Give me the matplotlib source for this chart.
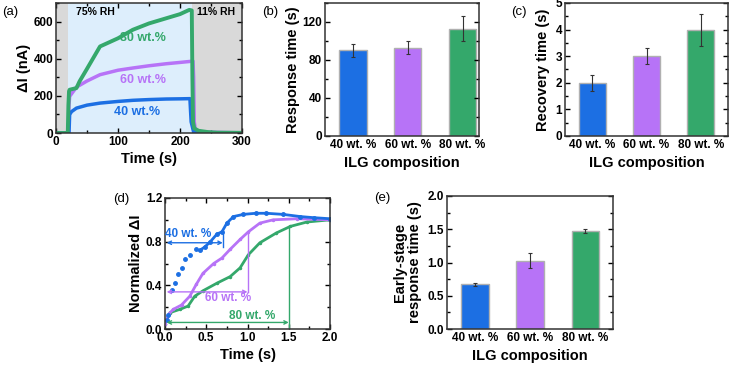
import matplotlib.pyplot as plt
from matplotlib.ticker import AutoMinorLocator

plt.rcParams['font.family'] = ['Liberation Sans', 'DejaVu Sans']
plt.rcParams['font.weight'] = 'bold'
plt.rcParams['axes.labelweight'] = 'bold'

BLUE = '#1c6fe3'
PURPLE = '#b773f7'
GREEN = '#34a86b'

# (a) current change vs time
t_green = [0, 19, 20, 21, 22, 33, 38, 49, 71, 100, 124, 150, 178, 200, 215, 219, 220, 221, 223, 230, 245, 260, 300]
i_green = [0, 0, 150, 225, 233, 242, 278, 340, 466, 510, 556, 590, 618, 640, 663, 660, 300, 60, 25, 12, 5, 2, 1]
t_purple = [0, 20, 21, 22, 33, 50, 71, 100, 124, 150, 178, 200, 221, 222, 223, 225, 235, 300]
i_purple = [0, 0, 150, 197, 247, 280, 314, 338, 350, 362, 373, 380, 387, 300, 60, 15, 5, 1]
t_blue = [0, 21, 22, 25, 33, 50, 71, 100, 124, 150, 178, 200, 216, 217, 218, 222, 235, 300]
i_blue = [0, 0, 99, 115, 134, 150, 161, 170, 176, 180, 183, 184, 185, 120, 60, 5, 1, 0]

# bar panels
comps = ['40 wt. %', '60 wt. %', '80 wt. %']
resp = [90, 93, 113]
resp_err = [6.5, 7, 13]
recov = [2, 3, 4]
recov_err = [0.3, 0.3, 0.6]
early = [0.67, 1.03, 1.48]
early_err = [0.025, 0.12, 0.03]

# (d) normalized response
d_t_blue = [0.02, 0.04, 0.08, 0.12, 0.16, 0.2, 0.24, 0.3, 0.38, 0.42, 0.48, 0.55, 0.63, 0.69, 0.75,
            0.83, 0.95, 1.1, 1.23, 1.43, 1.64, 1.8, 2.0]
d_n_blue = [0.08, 0.13, 0.36, 0.42, 0.5, 0.56, 0.64, 0.68, 0.73, 0.72, 0.75, 0.8, 0.87, 0.89, 0.97,
            1.03, 1.05, 1.06, 1.06, 1.05, 1.03, 1.02, 1.01]
d_t_purple = [0.0, 0.05, 0.1, 0.2, 0.3, 0.38, 0.46, 0.59, 0.69, 0.79, 0.91, 1.01, 1.15, 1.31, 1.6, 2.0]
d_n_purple = [0.05, 0.14, 0.18, 0.22, 0.3, 0.41, 0.51, 0.6, 0.65, 0.73, 0.82, 0.89, 0.97, 1.0, 1.01, 1.0]
d_t_green = [0.0, 0.06, 0.18, 0.28, 0.36, 0.46, 0.63, 0.79, 0.91, 1.01, 1.15, 1.35, 1.52, 1.72, 2.0]
d_n_green = [0.05, 0.15, 0.18, 0.21, 0.3, 0.35, 0.42, 0.48, 0.56, 0.68, 0.79, 0.88, 0.94, 0.98, 1.0]

TICK_FS = 8.5
LAB_FS = 10.5


def style_axes(ax):
    ax.tick_params(which='both', direction='in', top=True, right=True, labelsize=TICK_FS, width=1, pad=2)
    ax.tick_params(which='major', length=3.5)
    ax.tick_params(which='minor', length=2)
    ax.xaxis.set_minor_locator(AutoMinorLocator(2))
    ax.yaxis.set_minor_locator(AutoMinorLocator(2))
    for s in ax.spines.values():
        s.set_linewidth(1.1)
        s.set_color('#333333')
    for lab in ax.get_xticklabels() + ax.get_yticklabels():
        lab.set_fontweight('bold')


def bar_panel(ax, vals, errs):
    x = [1, 2, 3]
    ax.bar(x, vals, width=0.5, color=[BLUE, PURPLE, GREEN], edgecolor='#b0b0b0', linewidth=1,
           yerr=errs, capsize=1.5, error_kw=dict(elinewidth=0.8, capthick=0.8, ecolor='#333333'))
    ax.set_xticks(x)
    ax.set_xticklabels(comps)
    style_axes(ax)
    ax.tick_params(axis='x', which='both', top=False, bottom=False, pad=2)
    ax.set_xlabel('ILG composition', fontsize=LAB_FS, labelpad=4)


fig = plt.figure(figsize=(7.29, 3.66), dpi=100)
W, H = 729, 366


def add_ax(x0, x1, y0, y1):
    return fig.add_axes([x0 / W, 1 - y1 / H, (x1 - x0) / W, (y1 - y0) / H])


# (a)
ax = add_ax(56, 242, 3, 133)
ax.axvspan(0, 20, color='#d9d9d9', lw=0)
ax.axvspan(20, 220, color='#ddeefc', lw=0)
ax.axvspan(220, 300, color='#d9d9d9', lw=0)
ax.plot(t_purple, i_purple, color=PURPLE, lw=2.5)
ax.plot(t_blue, i_blue, color=BLUE, lw=2.5)
ax.plot(t_green, i_green, color=GREEN, lw=2.8)
ax.set_xlim(0, 300)
ax.set_ylim(0, 700)
ax.set_xticks([0, 100, 200, 300])
ax.set_yticks([0, 200, 400, 600])
ax.text(140, 511, '80 wt.%', color=GREEN, fontsize=9, fontweight='bold', ha='center', va='center')
ax.text(140, 287, '60 wt.%', color=PURPLE, fontsize=9, fontweight='bold', ha='center', va='center')
ax.text(131, 111, '40 wt.%', color=BLUE, fontsize=9, fontweight='bold', ha='center', va='center')
ax.text(63, 649, '75% RH', fontsize=7.5, fontweight='bold', ha='center', va='center')
ax.text(258, 649, '11% RH', fontsize=7.5, fontweight='bold', ha='center', va='center')
style_axes(ax)
ax.set_xlabel('Time (s)', fontsize=LAB_FS, labelpad=3)
ax.set_ylabel('ΔI (nA)', fontsize=LAB_FS, labelpad=2)
fig.text(2 / W, 1 - 12 / H, '(a)', fontsize=9.5, fontweight='normal', va='center')

# (b)
ax = add_ax(325, 479, 3, 136)
bar_panel(ax, resp, resp_err)
ax.set_xlim(0.49, 3.3)
ax.set_ylim(0, 140)
ax.set_yticks([0, 40, 80, 120])
ax.set_ylabel('Response time (s)', fontsize=LAB_FS, labelpad=2)
fig.text(262 / W, 1 - 12 / H, '(b)', fontsize=9.5, fontweight='normal', va='center')

# (c)
ax = add_ax(565, 728, 3, 136)
bar_panel(ax, recov, recov_err)
ax.set_xlim(0.5, 3.5)
ax.set_ylim(0, 5)
ax.set_yticks([0, 1, 2, 3, 4, 5])
ax.set_ylabel('Recovery time (s)', fontsize=LAB_FS, labelpad=4)
fig.text(511 / W, 1 - 12 / H, '(c)', fontsize=9.5, fontweight='normal', va='center')

# (d)
ax = add_ax(165, 330, 198, 329)
ax.plot(d_t_green, d_n_green, color=GREEN, lw=2, marker='o', ms=1.5)
ax.plot(d_t_purple, d_n_purple, color=PURPLE, lw=2, marker='o', ms=1.5)
ax.plot(d_t_blue, d_n_blue, color=BLUE, lw=0, marker='o', ms=2.5)
ax.plot(d_t_blue[9:], d_n_blue[9:], color=BLUE, lw=2)
arr = dict(arrowstyle='<->', lw=1, shrinkA=0, shrinkB=0, mutation_scale=6)
ax.annotate('', xy=(0.02, 0.79), xytext=(0.7, 0.79), arrowprops=dict(color=BLUE, **arr))
ax.plot([0.7, 0.7], [0.75, 0.89], color=BLUE, lw=1)
ax.text(0.28, 0.87, '40 wt. %', color=BLUE, fontsize=8.5, fontweight='bold', ha='center', va='center')
ax.annotate('', xy=(0.02, 0.34), xytext=(1.0, 0.34), arrowprops=dict(color=PURPLE, **arr))
ax.plot([1.0, 1.0], [0.34, 0.89], color=PURPLE, lw=1)
ax.text(0.77, 0.28, '60 wt. %', color=PURPLE, fontsize=8.5, fontweight='bold', ha='center', va='center')
ax.annotate('', xy=(0.02, 0.06), xytext=(1.5, 0.06), arrowprops=dict(color=GREEN, **arr))
ax.plot([1.5, 1.5], [0.0, 0.94], color=GREEN, lw=1)
ax.text(1.06, 0.12, '80 wt. %', color=GREEN, fontsize=8.5, fontweight='bold', ha='center', va='center')
ax.set_xlim(0, 2)
ax.set_ylim(0, 1.2)
ax.set_xticks([0, 0.5, 1.0, 1.5, 2.0])
ax.set_yticks([0, 0.4, 0.8, 1.2])
style_axes(ax)
ax.set_xlabel('Time (s)', fontsize=LAB_FS, labelpad=3)
ax.set_ylabel('Normalized ΔI', fontsize=LAB_FS, labelpad=2)
fig.text(113 / W, 1 - 199 / H, '(d)', fontsize=9.5, fontweight='normal', va='center')

# (e)
ax = add_ax(447, 613, 196, 329)
bar_panel(ax, early, early_err)
ax.set_xlim(0.5, 3.5)
ax.set_ylim(0, 2)
ax.set_yticks([0, 0.5, 1.0, 1.5, 2.0])
ax.set_ylabel('Early-stage\nresponse time (s)', fontsize=LAB_FS, labelpad=4, linespacing=1.1)
fig.text(374 / W, 1 - 198 / H, '(e)', fontsize=9.5, fontweight='normal', va='center')

fig.savefig('out.png', dpi=100)
